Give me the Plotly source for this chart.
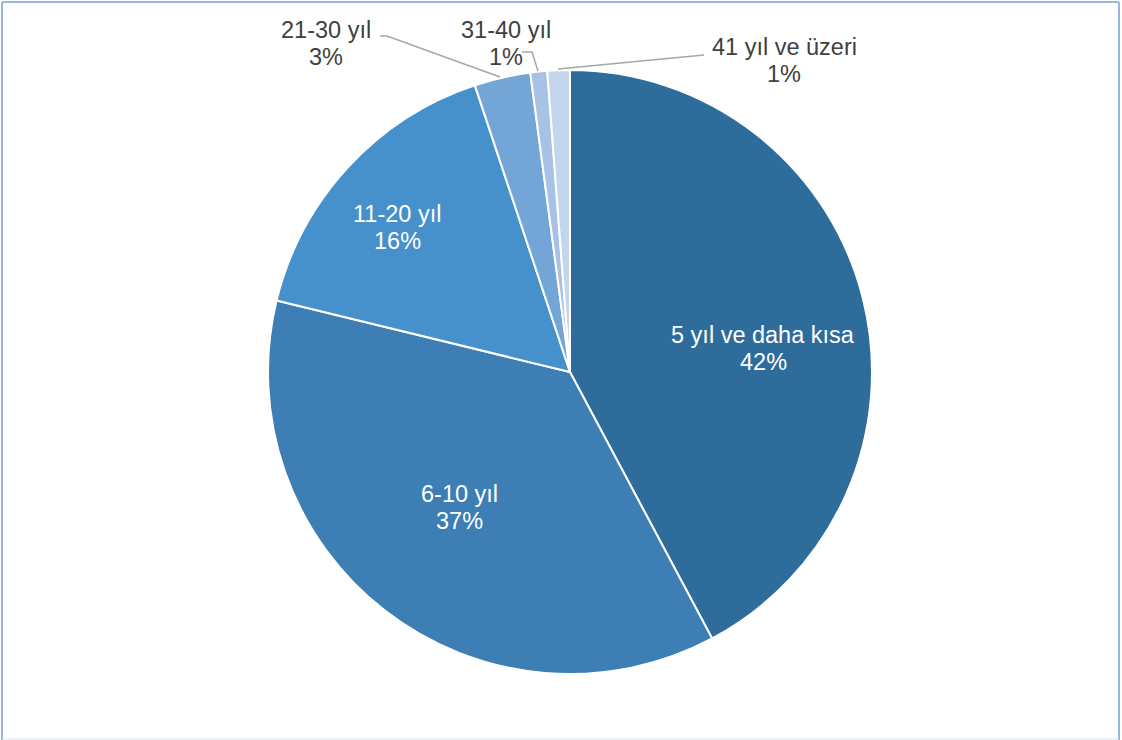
import plotly.graph_objects as go

# Distribution of years (share of respondents)
categories = ["5 yıl ve daha kısa", "6-10 yıl", "11-20 yıl", "21-30 yıl", "31-40 yıl", "41 yıl ve üzeri"]
values = [42.2, 36.6, 16.1, 3.0, 0.9, 1.2]
colors = ["#2E6C9B", "#3D7EB5", "#4690CC", "#73A5D6", "#A7C2E4", "#C3D6EE"]

W, H = 1122, 740
CX, CY, R = 570, 372, 302  # pie centre / radius in pixels


def px(x):
    return x / W


def py(y):
    return 1 - y / H


total = sum(values)
pct = [f"{round(v / total * 100):.0f}%" for v in values]

fig = go.Figure(
    go.Pie(
        labels=categories,
        values=values,
        sort=False,
        direction="clockwise",
        rotation=0,
        marker=dict(colors=colors, line=dict(color="white", width=2)),
        textinfo="none",
        hoverinfo="label+percent",
        showlegend=False,
        domain=dict(x=[px(CX - R), px(CX + R)], y=[py(CY + R), py(CY - R)]),
    )
)

# label anchor points (pixels, centre of first line) for each slice
label_pos = [(763, 335), (459, 494), (397, 214), (326, 30), (506, 30), (784, 47)]
LINE_PITCH = 27
FONT = "Liberation Sans, Arial, sans-serif"
font_white = dict(family=FONT, size=23.5, color="white")
font_dark = dict(family=FONT, size=23.5, color="#404040")

annotations = []
for i, (name, p, (x, y)) in enumerate(zip(categories, pct, label_pos)):
    f = font_white if i < 3 else font_dark
    for j, line in enumerate((name, p)):
        annotations.append(
            dict(
                x=px(x), y=py(y + j * LINE_PITCH), xref="paper", yref="paper",
                text=line, showarrow=False, font=f,
                xanchor="center", yanchor="middle", align="center",
            )
        )

# leader lines for the small outer slices
leaders = [
    [(380, 36), (387, 36), (500, 77)],
    [(522, 52), (532, 52), (538, 71)],
    [(558, 69), (704, 55)],
]
shapes = []
for pts in leaders:
    path = "M " + " L ".join(f"{px(x)},{py(y)}" for x, y in pts)
    shapes.append(dict(type="path", xref="paper", yref="paper", path=path,
                       line=dict(color="#A6A6A6", width=1.5)))

# chart frame
frame_blue = dict(color="#95B7E0", width=2)
shapes += [
    dict(type="line", xref="paper", yref="paper", x0=px(2), x1=px(2), y0=py(2), y1=py(740), line=frame_blue),
    dict(type="line", xref="paper", yref="paper", x0=px(2), x1=px(1119), y0=py(2), y1=py(2), line=frame_blue),
    dict(type="line", xref="paper", yref="paper", x0=px(1119), x1=px(1119), y0=py(2), y1=py(740), line=frame_blue),
    dict(type="line", xref="paper", yref="paper", x0=px(2), x1=px(1119), y0=py(739), y1=py(739),
         line=dict(color="#D9E2EC", width=1)),
]

fig.update_layout(
    width=W, height=H,
    margin=dict(l=0, r=0, t=0, b=0),
    paper_bgcolor="white", plot_bgcolor="white",
    annotations=annotations, shapes=shapes,
)

fig.write_html("out.html")
